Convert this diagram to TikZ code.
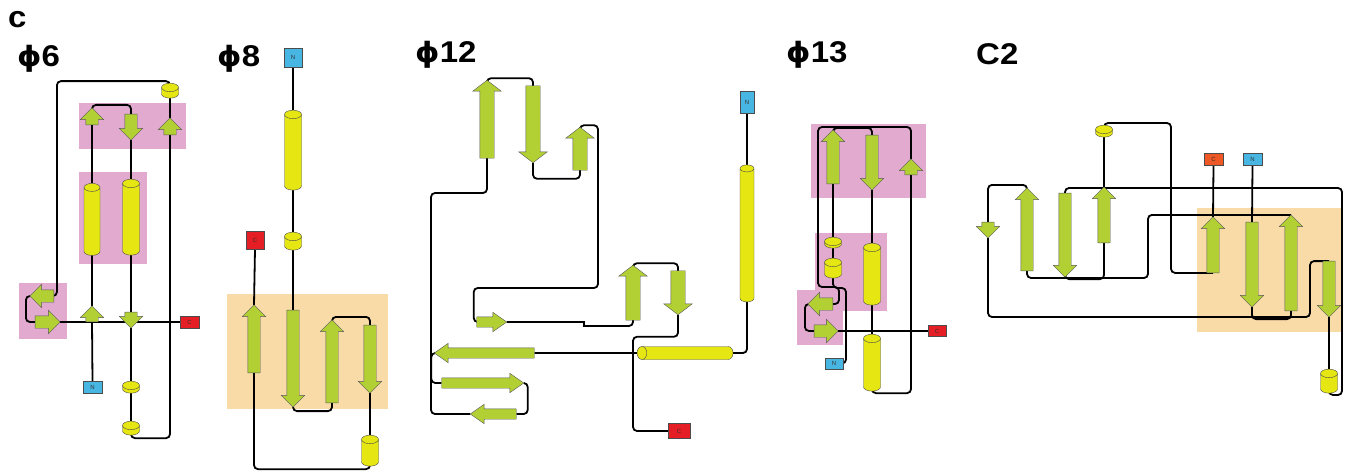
\documentclass[tikz,border=0pt]{standalone}
\usepackage{fontspec}
\setmainfont{Liberation Sans}
\newfontfamily\phifont{DejaVu Sans}
\usetikzlibrary{shapes.arrows,shapes.geometric,backgrounds}

\definecolor{strandgreen}{RGB}{178,208,52}
\definecolor{helixyellow}{RGB}{230,230,18}
\definecolor{pinkbox}{RGB}{226,170,206}
\definecolor{orangebox}{RGB}{249,219,168}
\definecolor{ntermblue}{RGB}{72,182,226}
\definecolor{ctermred}{RGB}{228,30,36}
\definecolor{ctermorange}{RGB}{238,88,36}

\newcommand{\phisym}{{\phifont\fontsize{28}{30}\selectfont ϕ}}

\tikzset{
  strand/.style={single arrow, fill=strandgreen, draw=gray!70!black, line width=0.4pt,
    inner xsep=0pt, inner ysep=6pt, outer sep=0pt, minimum width=0pt,
    single arrow head extend=5.5pt, single arrow tip angle=90},
  wide strand/.style={strand, inner ysep=7pt, single arrow head extend=7pt, single arrow tip angle=105},
  thin strand/.style={strand, inner ysep=5pt, single arrow head extend=4.5pt, single arrow tip angle=70},
  helix/.style={cylinder, shape border rotate=90, aspect=0.5, fill=helixyellow,
    draw=gray!60!black, line width=0.4pt, minimum width=17pt, yshift=-4.5pt,
    inner xsep=8.5pt, inner ysep=0pt, outer sep=0pt},
  nterm/.style={rectangle, fill=ntermblue, draw=gray!60!black, line width=0.4pt,
    minimum width=19pt, minimum height=12pt, inner sep=0pt, outer sep=0pt,
    font=\fontsize{6}{6}\selectfont, text=black!80},
  cterm/.style={nterm, fill=ctermred},
  chain/.style={line width=1.8pt, rounded corners=4pt},
  panel label/.style={anchor=base west, inner sep=0pt, xscale=1.1, font=\bfseries\fontsize{30}{34}\selectfont},
}

\begin{document}
\begin{tikzpicture}[x=1pt,y=-1pt]
\useasboundingbox (0,0) rectangle (1348,476);

% panel labels
\node[panel label] (lblc) at (8,28) {c};
\node[panel label] (lbl6) at (17,67) {\phisym6};
\node[panel label] (lbl8) at (217,67) {\phisym8};
\node[panel label] (lbl12) at (415,63) {\phisym12};
\node[panel label] (lbl13) at (786,63) {\phisym13};
\node[panel label] (lblC2) at (976,65) {C2};

%% phi6
\node[strand,rotate=90,minimum height=17pt] (a1) at (92,119.5) {};
\node[strand,rotate=-90,minimum height=26pt] (a2) at (131,124) {};
\node[strand,rotate=90,minimum height=17pt] (a3) at (170,129.5) {};
\node[strand,rotate=90,minimum height=16pt] (a4) at (92,317) {};
\node[strand,rotate=-90,minimum height=16pt] (a5) at (131,317) {};
\node[strand,rotate=180,minimum height=24pt] (a6) at (45,296) {};
\node[strand,minimum height=25pt] (a7) at (44.5,322) {};
\node[helix,minimum width=16pt,inner xsep=8pt,minimum height=72pt] (ah1) at (92,219) {};
\node[helix,minimum height=76pt] (ah2) at (131,217) {};
\node[helix,minimum height=12pt] (ah3) at (131,387) {};
\node[helix,minimum height=14pt] (ah4) at (131,428) {};
\node[helix,minimum height=15pt] (ah5) at (170,90.5) {};
\node[nterm] (aN) at (92.5,387) {N};
\node[cterm] (aC) at (189.5,322) {C};

%% phi8
\node[nterm,minimum width=18pt,minimum height=19pt] (bN) at (293,57.5) {N};
\node[helix,minimum height=80pt] (bh1) at (293,150) {};
\node[helix,minimum height=18pt] (bh2) at (293,241) {};
\node[cterm,minimum width=18pt,minimum height=18pt] (bC) at (255,240) {C};
\node[strand,rotate=90,minimum height=68pt] (b1) at (254,342) {};
\node[strand,rotate=-90,minimum height=97pt] (b2) at (293,355.5) {};
\node[strand,rotate=90,minimum height=83pt] (b3) at (332,364.5) {};
\node[strand,rotate=-90,minimum height=68pt] (b4) at (370,356) {};
\node[helix,minimum height=31pt] (bh3) at (370,450.5) {};

%% phi12
\node[wide strand,rotate=90,minimum height=78pt] (c1) at (487,122) {};
\node[wide strand,rotate=-90,minimum height=77pt] (c2) at (533,121.5) {};
\node[wide strand,rotate=90,minimum height=43pt] (c3) at (580,151.5) {};
\node[thin strand,minimum height=30pt] (c4) at (488,322) {};
\node[wide strand,rotate=90,minimum height=55pt] (c5) at (633,295.5) {};
\node[wide strand,rotate=-90,minimum height=44pt] (c6) at (678,290) {};
\node[thin strand,rotate=180,minimum height=100pt] (c7) at (488,353) {};
\node[thin strand,minimum height=82pt] (c8) at (479,383) {};
\node[thin strand,rotate=180,minimum height=46pt] (c9) at (497,414) {};
\node[helix,minimum width=14pt,inner xsep=7pt,minimum height=137pt] (ch1) at (747,232.5) {};
\node[helix,shape border rotate=180,aspect=0.75,minimum width=13pt,inner xsep=0pt,inner ysep=6.5pt,
  minimum height=96pt,yshift=4.5pt,xshift=5pt] (ch2) at (685,353) {};
\node[nterm,minimum width=14pt,minimum height=22pt] (cN) at (747,102) {N};
\node[cterm,minimum width=22pt,minimum height=15pt] (cC) at (679,431) {C};

%% phi13
\node[strand,rotate=90,minimum height=54pt] (d1) at (833,160) {};
\node[strand,rotate=-90,minimum height=55pt] (d2) at (872,159.5) {};
\node[strand,rotate=90,minimum height=16pt] (d3) at (911,170) {};
\node[strand,rotate=180,minimum height=25pt] (d4) at (823.5,304) {};
\node[strand,minimum height=24pt] (d5) at (823,331) {};
\node[helix,minimum height=11pt] (dh1) at (833,242.5) {};
\node[helix,minimum height=20pt] (dh2) at (833,268) {};
\node[helix,minimum height=62pt] (dh3) at (872,274) {};
\node[helix,minimum height=57pt] (dh4) at (872,362.5) {};
\node[nterm,minimum width=18pt,minimum height=11pt] (dN) at (834,363.5) {N};
\node[cterm,minimum width=18pt,minimum height=11pt] (dC) at (937,331) {C};

%% C2
\node[strand,rotate=-90,minimum height=16pt] (e0) at (988,227) {};
\node[strand,rotate=90,minimum height=83pt] (e1) at (1027,232.5) {};
\node[strand,rotate=-90,minimum height=84pt] (e2) at (1065,232) {};
\node[strand,rotate=90,minimum height=56pt] (e3) at (1104,218) {};
\node[strand,rotate=90,minimum height=56pt] (e4) at (1213,248) {};
\node[strand,rotate=-90,minimum height=85pt] (e5) at (1252,261.5) {};
\node[strand,rotate=90,minimum height=96pt] (e6) at (1291,266) {};
\node[strand,rotate=-90,minimum height=56pt] (e7) at (1329,286) {};
\node[helix,minimum height=12pt] (eh1) at (1104,131) {};
\node[helix,minimum height=24pt] (eh2) at (1329,381) {};
\node[cterm,fill=ctermorange] (eC) at (1213.5,159) {C};
\node[nterm] (eN) at (1252.5,159) {N};

\begin{pgfonlayer}{background}
% shaded regions
\fill[pinkbox] (79,103) rectangle (186,149);
\fill[pinkbox] (79,172) rectangle (147,264);
\fill[pinkbox] (19,283) rectangle (67,339);
\fill[orangebox] (227,294) rectangle (388,409);
\fill[pinkbox] (811,124) rectangle (926,198);
\fill[pinkbox] (815,233) rectangle (887,311);
\fill[pinkbox] (797,290) rectangle (843,345);
\fill[orangebox] (1197,208) rectangle (1342,332);

% phi6 chain
\draw[chain] (aN.north) -- (a4.tail);
\draw[chain] (a4.tip) -- (ah1.south);
\draw[chain] (ah1.north) -- (a1.tail);
\draw[chain] (a1.tip) -- ++(0,-3) -| (a2.tail);
\draw[chain] (a2.tip) -- (ah2.north);
\draw[chain] (ah2.south) -- (a5.tail);
\draw[chain] (a5.tip) -- (ah3.north);
\draw[chain] (ah3.south) -- (ah4.north);
\draw[chain] (ah4.south) -- ++(0,3) -| (a3.tail);
\draw[chain] (a3.tip) -- (ah5.south);
\draw[chain] (ah5.north) -- ++(0,-2) -| ([xshift=3pt]a6.tail) -- (a6.tail);
\draw[chain] (a6.tip) -- ++(-4,0) |- (a7.tail);
\draw[chain] (a7.tip) -- (aC.west);

% phi8 chain
\draw[chain] (bN.south) -- (bh1.north);
\draw[chain] (bh1.south) -- (bh2.north);
\draw[chain] (bh2.south) -- (b2.tail);
\draw[chain] (b2.tip) -- ++(0,4) -| (b3.tail);
\draw[chain] (b3.tip) -- ++(0,-3) -| (b4.tail);
\draw[chain] (b4.tip) -- (bh3.north);
\draw[chain] (bh3.south) -- ++(0,3) -| (b1.tail);
\draw[chain] (b1.tip) -- (bC.south);

% phi12 chain
\draw[chain] (cN.south) -- (ch1.north);
\draw[chain] (ch1.south) |- (ch2.east);
\draw[chain] (ch2.west) -- (c7.tail);
\draw[chain] (c7.tip) -- ++(-3,0) |- (c8.tail);
\draw[chain] (c8.tip) -- ++(4,0) |- (c9.tail);
\draw[chain] (c9.tip) -| (431,193) -| (c1.tail);
\draw[chain] (c1.tip) -- ++(0,-2) -| (c2.tail);
\draw[chain] (c2.tip) -- ++(0,16) -| (c3.tail);
\draw[chain] (c3.tip) -- ++(0,-2) -| (598,288) -| ([xshift=-3pt]c4.tail) -- (c4.tail);
\draw[chain] (c4.tip) -- (580,322) to[out=0,in=180] (588,326) -| (c5.tail);
\draw[chain] (c5.tip) -- ++(0,-2) -| (c6.tail);
\draw[chain] (c6.tip) -- ++(0,22) -| ([xshift=-35pt]cC.west) -- (cC.west);

% phi13 chain
\draw[chain] (dN.east) -| (846,288) -| (dh2.south);
\draw[chain] (dh2.north) -- (dh1.south);
\draw[chain] (dh1.north) -- (d1.tail);
\draw[chain] (d1.tip) -- ++(0,-2) -| (d2.tail);
\draw[chain] (d2.tip) -- (dh3.north);
\draw[chain] (dh3.south) -- (dh4.north);
\draw[chain] (dh4.south) -- ++(0,2) -| (d3.tail);
\draw[chain] (d3.tip) |- (818,127) |- (839,287) |- (d4.tail);
\draw[chain] (d4.tip) -- ++(-3,0) |- (d5.tail);
\draw[chain] (d5.tip) -- (dC.west);

% C2 chain
\draw[chain] (eN.south) -- (e5.tail);
\draw[chain] (e5.tip) -- ++(0,12) -| (e6.tail);
\draw[chain] (e6.tip) -| (1148,278) -| (e1.tail);
\draw[chain] (e1.tip) -- ++(0,-3) -| (e0.tail);
\draw[chain] (e0.tip) |- (1310,317) |- (e7.tail);
\draw[chain] (e7.tip) -- (eh2.north);
\draw[chain] (eh2.south) |- (1342,395) -- (1342,188) -| (e2.tail);
\draw[chain] (e2.tip) -- ++(0,2) -| (e3.tail);
\draw[chain] (e3.tip) -- (eh1.south);
\draw[chain] (eh1.north) |- (1171,123) |- (e4.tail);
\draw[chain] (e4.tip) -- (eC.south);
\end{pgfonlayer}
\end{tikzpicture}
\end{document}
